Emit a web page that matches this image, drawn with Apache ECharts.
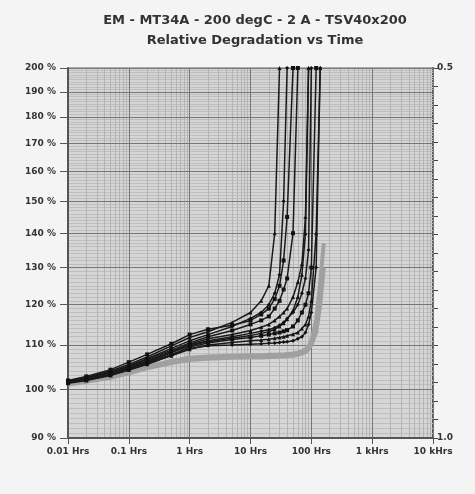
<!DOCTYPE html>
<html>
<head>
<meta charset="utf-8">
<title>Relative Degradation vs Time</title>
<script src="https://cdn.jsdelivr.net/npm/echarts@6/dist/echarts.min.js"></script>
</head>
<body style="margin:0;background:#f4f4f4">
<div id="box" style="width: 475px;height: 494px;"></div>
<script>
// time in hours (log axis)
var times = [0.01, 0.02, 0.05, 0.1, 0.2, 0.5, 1, 2, 5, 10, 15, 20, 25, 30, 35, 40, 50, 60, 70, 80, 90, 100, 120, 140, 160]

// relative resistance (%) per sample, stops when it runs off the top
var sA = [101.8, 102.6, 104, 105.5, 107.2, 109.8, 111.8, 113.2, 115.5, 118, 121, 125, 140, 200]
var sB = [101.6, 102.4, 103.7, 105.2, 106.8, 109.2, 111, 112.5, 114.5, 116.5, 118, 120, 123, 128, 150, 200]
var sC = [101.7, 102.5, 103.8, 105, 106.6, 108.8, 110.5, 112, 113.5, 115, 116, 117, 119, 121, 124, 127, 140, 200]
var sD = [101.5, 102.2, 103.5, 104.8, 106.3, 108.5, 110.2, 111.5, 112.5, 113.5, 114.3, 115, 116, 117, 118, 119, 122, 126, 131, 145, 200]
var sE = [101.6, 102.3, 103.4, 104.6, 106, 108.2, 110, 111, 112, 112.8, 113.3, 113.7, 114.2, 114.8, 115.5, 116.5, 118, 120, 123, 127, 135, 200]
var sF = [101.4, 102, 103.2, 104.4, 105.8, 107.8, 109.5, 110.5, 111.3, 111.8, 112.2, 112.5, 112.8, 113, 113.3, 113.6, 114.5, 116, 118, 120, 123, 130, 200]
var sG = [101.3, 101.9, 103, 104.2, 105.5, 107.5, 109, 110, 110.6, 111, 111.2, 111.4, 111.6, 111.8, 112, 112.2, 112.6, 113, 114, 115, 117, 121, 140, 200]
var sH = [101.5, 102.1, 103.1, 104.3, 105.6, 107.6, 109.2, 109.8, 110, 110.2, 110.3, 110.4, 110.5, 110.6, 110.7, 110.8, 111, 111.5, 112, 113, 115, 118, 130, 200]
var sI = [101.9, 102.8, 104.3, 106, 107.8, 110.3, 112.5, 113.8, 114.8, 116, 117.5, 119, 121.5, 125, 132, 145, 200]
var sJ = [101.4, 102.1, 103.3, 104.6, 106.1, 108.3, 109.8, 110.8, 111.6, 112.3, 112.8, 113.2, 113.8, 114.5, 115.3, 116.3, 118.5, 122, 128, 140, 200]
var gray1 = [101.2, 101.8, 102.8, 103.8, 105, 106.3, 107, 107.3, 107.5, 107.6, 107.6, 107.7, 107.7, 107.8, 107.8, 107.9, 108, 108.2, 108.5, 109, 109.8, 111, 116, 126, 137]
var gray2 = [101, 101.6, 102.5, 103.5, 104.6, 105.8, 106.5, 106.8, 107, 107.1, 107.1, 107.2, 107.2, 107.3, 107.3, 107.4, 107.5, 107.7, 108, 108.3, 109, 110, 113, 120, 130]

var blackSets = [sA, sB, sC, sD, sE, sF, sG, sH, sI, sJ]
var graySets = [gray1, gray2]

// axis labels
var yTicks = [90, 100, 110, 120, 130, 140, 150, 160, 170, 180, 190, 200]
var xTicks = [0.01, 0.1, 1, 10, 100, 1000, 10000]
var xNames = ['0.01 Hrs', '0.1 Hrs', '1 Hrs', '10 Hrs', '100 Hrs', '1 kHrs', '10 kHrs']

// minor grid positions
var yMinor = []
for (var v = 90; v <= 200; v++) yMinor.push(v)
var yMinorTicks = []
for (var v2 = 90; v2 <= 200; v2 += 2) yMinorTicks.push(v2)
var xMinor = []
for (var d = 0.01; d < 10000; d *= 10) {
	for (var k = 1; k <= 9; k++) xMinor.push(+(d * k).toPrecision(3))
}
var rightTicks = []
for (var r = 0.5; r <= 1.0001; r += 0.025) rightTicks.push(+r.toFixed(3))

function pairs(vals) {
	return vals.map(function(v, i) { return [times[i], v] })
}

var series = []
graySets.forEach(function(s) {
	series.push({
		type: 'line', xAxisIndex: 0, yAxisIndex: 0, data: pairs(s),
		showSymbol: false, lineStyle: { color: '#a0a0a0', width: 4 }, z: 3
	})
})
var marks = ['triangle', 'diamond', 'rect', 'triangle', 'diamond', 'rect', 'triangle', 'diamond', 'rect', 'triangle']
blackSets.forEach(function(s, i) {
	series.push({
		type: 'line', xAxisIndex: 0, yAxisIndex: 0, data: pairs(s),
		symbol: marks[i], symbolSize: 4,
		itemStyle: { color: '#111' },
		lineStyle: { color: '#1a1a1a', width: 1.5 }, z: 4
	})
})

var font = 'DejaVu Sans, Arial, sans-serif'
var mCharts = echarts.init(document.querySelector('#box'))
var option = {
	animation: false,
	backgroundColor: '#f4f4f4',
	title: [
		{ text: 'EM - MT34A - 200 degC - 2 A - TSV40x200', left: 250, top: 9, textAlign: 'center',
			textStyle: { fontSize: 13, fontWeight: 'bold', color: '#333', fontFamily: font } },
		{ text: 'Relative Degradation vs Time', left: 250, top: 29, textAlign: 'center',
			textStyle: { fontSize: 13, fontWeight: 'bold', color: '#333', fontFamily: font } }
	],
	grid: { left: 68, right: 42, top: 68, bottom: 56, show: true, backgroundColor: '#d6d6d6', borderColor: '#666', borderWidth: 1 },
	xAxis: [
		{
			type: 'log', logBase: 10, min: 0.01, max: 10000,
			axisLine: { lineStyle: { color: '#555', width: 2 } },
			axisTick: { customValues: xTicks, length: 6, lineStyle: { color: '#555' } },
			axisLabel: {
				customValues: xTicks, margin: 9, fontSize: 9, fontWeight: 'bold', color: '#333', fontFamily: font,
				formatter: function(v) { return xNames[xTicks.indexOf(+v.toPrecision(3))] || '' }
			},
			splitLine: { show: true, lineStyle: { color: '#777', width: 1 } }, z: 2
		},
		{
			type: 'log', logBase: 10, min: 0.01, max: 10000,
			axisLine: { show: false }, axisLabel: { show: false },
			axisTick: { customValues: xMinor, show: false },
			splitLine: { show: true, lineStyle: { color: '#b4b4b4', width: 1 } }, z: 1
		}
	],
	yAxis: [
		{
			type: 'log', logBase: 10, min: 90, max: 200,
			axisLine: { show: true, lineStyle: { color: '#555', width: 2 } },
			axisTick: { show: true, customValues: yTicks, length: 8, lineStyle: { color: '#555' } },
			axisLabel: {
				customValues: yTicks, margin: 12, fontSize: 9, fontWeight: 'bold', color: '#333', fontFamily: font,
				formatter: function(v) { return Math.round(v) + ' %' }
			},
			splitLine: { show: true, lineStyle: { color: '#777', width: 1 } }, z: 2
		},
		{
			type: 'log', logBase: 10, min: 90, max: 200,
			axisLine: { show: false }, axisLabel: { show: false },
			axisTick: { customValues: yMinor, show: false },
			splitLine: { show: true, lineStyle: { color: '#bebebe', width: 1 } }, z: 1
		},
		{
			type: 'value', position: 'right', inverse: true, min: 0.5, max: 1.0,
			axisLine: { show: true, lineStyle: { color: '#555', width: 2 } },
			axisTick: { show: true, customValues: rightTicks, length: 5, lineStyle: { color: '#444' } },
			axisLabel: {
				customValues: [0.5, 1.0], margin: 4, fontSize: 9, fontWeight: 'bold', color: '#333', fontFamily: font,
				formatter: function(v) { return v.toFixed(1) }
			},
			splitLine: { show: false }
		},
		{
			type: 'log', logBase: 10, min: 90, max: 200, position: 'left',
			axisLine: { show: false }, axisLabel: { show: false },
			axisTick: { show: true, inside: true, customValues: yMinorTicks, length: 4, lineStyle: { color: '#555' } },
			splitLine: { show: false }
		}
	],
	series: series
}
mCharts.setOption(option)
</script>
</body>
</html>
